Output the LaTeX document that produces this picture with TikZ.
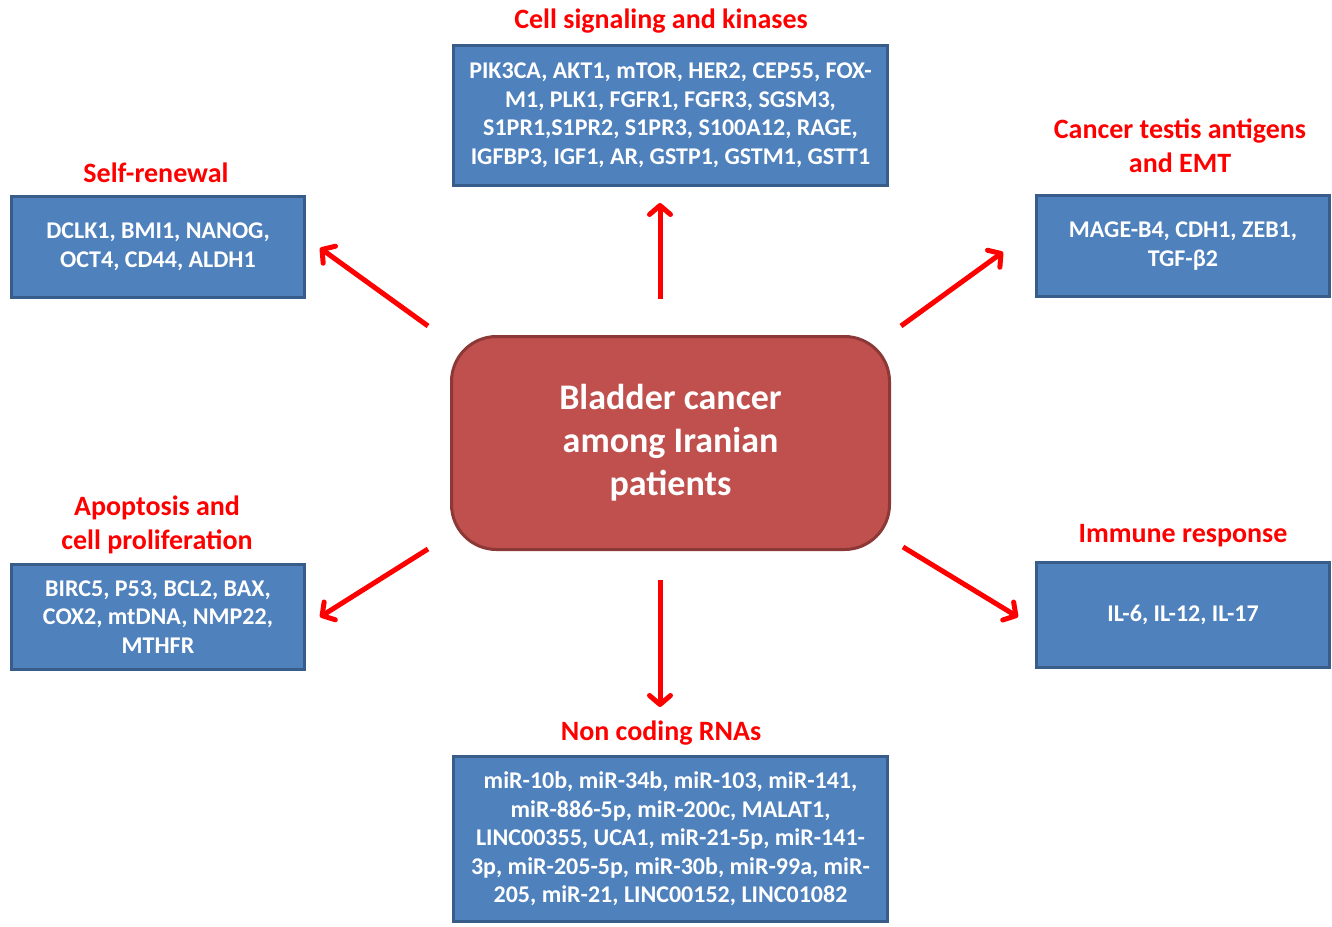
\documentclass[tikz,border=0pt]{standalone}
\usepackage{fontspec}
\setmainfont{Carlito}
\usepackage{xcolor}
\usepackage{tikz}
\usetikzlibrary{arrows.meta,positioning}
\definecolor{boxfill}{HTML}{4F81BD}
\definecolor{boxedge}{HTML}{385D8A}
\definecolor{hubfill}{HTML}{C0504D}
\definecolor{hubedge}{HTML}{8C3836}
\definecolor{labelred}{HTML}{FF0000}

\tikzset{
  genebox/.style={draw=boxedge, fill=boxfill, line width=3pt, inner sep=0pt, align=center,
    text=white, font=\fontsize{24}{28.5}\selectfont\bfseries},
  grouplabel/.style={text=labelred, align=center, inner sep=0pt, font=\fontsize{28}{34}\selectfont\bfseries},
  pointer/.style={draw=labelred, line width=5pt, -{Straight Barb[length=9pt,width=21pt,round]}}
}

\begin{document}
\begin{tikzpicture}[x=1pt, y=-1pt]

\useasboundingbox (0,0) rectangle (1332,926);

% Central disease box
\node[draw=hubedge, fill=hubfill, line width=3pt, rounded corners=45pt, minimum width=438pt, minimum height=213pt,
  align=center, text=white, font=\fontsize{36}{43}\selectfont\bfseries] (hub) at (670.5,443)
  {Bladder cancer\\among Iranian\\patients};

% Cell signaling and kinases
\node[grouplabel] (siglbl) at (661,21) {Cell signaling and kinases};
\node[genebox, minimum width=434pt, minimum height=140pt] (sig) at (670.5,115.5)
  {PIK3CA, AKT1, mTOR, HER2, CEP55, FOX-\\M1, PLK1, FGFR1, FGFR3, SGSM3,\\S1PR1,S1PR2, S1PR3, S100A12, RAGE,\\IGFBP3, IGF1, AR, GSTP1, GSTM1, GSTT1};

% Self-renewal
\node[grouplabel] (selflbl) at (156,173) {Self-renewal};
\node[genebox, minimum width=293pt, minimum height=101pt] (self) at (158,247)
  {DCLK1, BMI1, NANOG,\\OCT4, CD44, ALDH1};

% Cancer testis antigens and EMT
\node[grouplabel] (ctalbl) at (1180,146) {Cancer testis antigens\\and EMT};
\node[genebox, minimum width=293pt, minimum height=101pt] (cta) at (1183,246)
  {MAGE-B4, CDH1, ZEB1,\\TGF-β2};

% Apoptosis and cell proliferation
\node[grouplabel] (apolbl) at (157,524.5) {Apoptosis and\\cell proliferation};
\node[genebox, minimum width=293pt, minimum height=105pt] (apo) at (158,617)
  {BIRC5, P53, BCL2, BAX,\\COX2, mtDNA, NMP22,\\MTHFR};

% Immune response
\node[grouplabel] (immlbl) at (1183,536) {Immune response};
\node[genebox, minimum width=293pt, minimum height=105pt] (imm) at (1183,615)
  {IL-6, IL-12, IL-17};

% Non coding RNAs
\node[grouplabel] (ncrlbl) at (661,733) {Non coding RNAs};
\node[genebox, minimum width=434pt, minimum height=165pt] (ncr) at (670.5,839)
  {miR-10b, miR-34b, miR-103, miR-141,\\miR-886-5p, miR-200c, MALAT1,\\LINC00355, UCA1, miR-21-5p, miR-141-\\3p, miR-205-5p, miR-30b, miR-99a, miR-\\205, miR-21, LINC00152, LINC01082};

% Arrow ends
\coordinate (upS) at (660,299);   \coordinate (upE) at (660,203);
\coordinate (ulS) at (428,326);   \coordinate (ulE) at (320,248);
\coordinate (urS) at (901,326);   \coordinate (urE) at (1003,252);
\coordinate (dlS) at (428,549);   \coordinate (dlE) at (320,617);
\coordinate (drS) at (903,547);   \coordinate (drE) at (1018,617);
\coordinate (dnS) at (660,580);   \coordinate (dnE) at (660,707);

% Arrows
\draw[pointer] (upS) -- (upE);
\draw[pointer] (ulS) -- (ulE);
\draw[pointer] (urS) -- (urE);
\draw[pointer] (dlS) -- (dlE);
\draw[pointer] (drS) -- (drE);
\draw[pointer] (dnS) -- (dnE);

\end{tikzpicture}
\end{document}
